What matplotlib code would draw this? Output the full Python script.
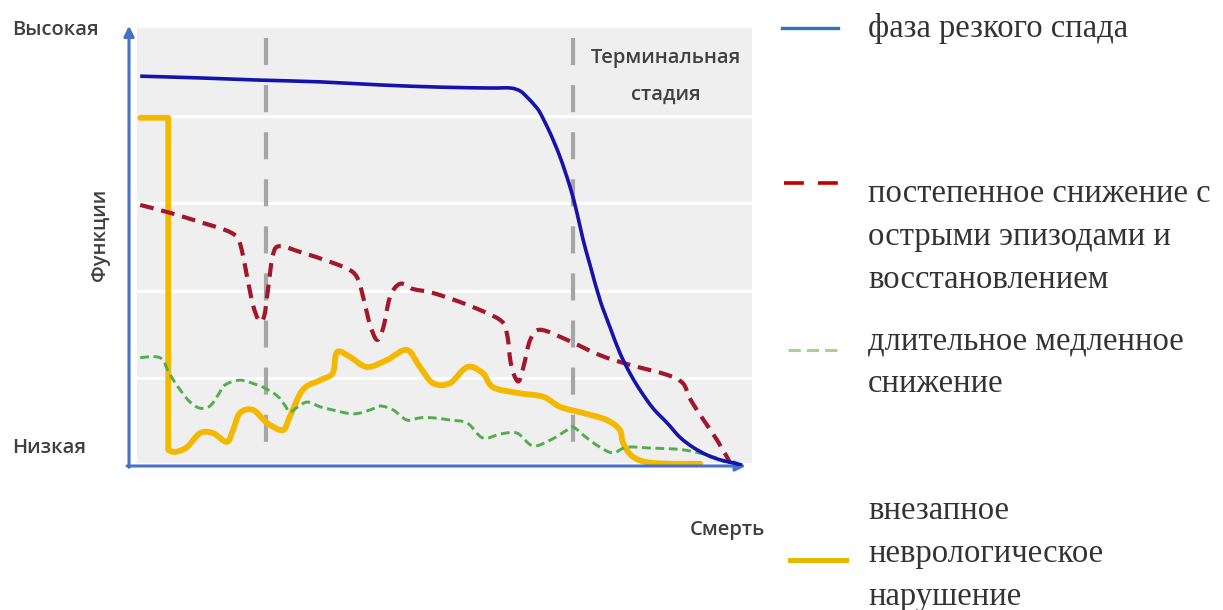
import matplotlib
matplotlib.use("Agg")
import matplotlib.pyplot as plt
import numpy as np
from matplotlib.lines import Line2D
from matplotlib.path import Path
from matplotlib.patches import PathPatch

W, H = 1223, 610

# ---- data (time 0..100, function 0..100) ----
blue_x = [1.8, 11.4, 21.0, 30.7, 40.3, 49.9, 57.9, 61.2, 62.8, 63.9, 65.2, 66.0, 67.6, 69.2, 70.8,
          71.9, 72.9, 74.0, 75.6, 77.2, 78.8, 80.4, 82.0, 84.1, 86.4, 88.4, 90.5, 92.8, 94.9, 97.0, 98.4]
blue_y = [89.0, 88.6, 88.1, 87.7, 87.0, 86.5, 86.3, 86.3, 85.6, 84.2, 82.2, 80.6, 76.0, 70.5, 63.7,
          57.8, 51.6, 45.9, 37.9, 31.7, 25.8, 21.2, 17.4, 13.2, 9.8, 6.6, 4.3, 2.5, 1.4, 0.7, 0.2]

red_x = [1.8, 6.6, 11.4, 15.4, 17.3, 18.1, 18.9, 19.9, 20.9, 21.7, 22.3, 23.1, 24.2, 27.4, 32.3,
         35.5, 36.8, 37.7, 38.7, 39.8, 40.8, 41.9, 43.5, 45.6, 48.8, 54.3, 59.6, 60.7, 61.2, 61.8,
         62.6, 63.4, 64.4, 66.0, 70.3, 75.6, 80.4, 86.4, 88.9, 90.0, 91.7, 94.4, 96.5]
red_y = [59.6, 57.8, 55.7, 53.9, 52.3, 49.3, 43.6, 36.8, 33.1, 34.2, 40.2, 48.2, 50.2, 48.9, 46.6,
         44.7, 42.5, 37.9, 32.2, 28.8, 31.5, 38.6, 41.6, 40.4, 39.5, 36.8, 33.3, 29.9, 24.2, 20.8,
         19.4, 23.1, 28.8, 31.1, 28.8, 25.3, 23.1, 20.8, 18.9, 15.5, 11.6, 5.9, 0.7]

green_x = [1.8, 5.0, 6.6, 8.2, 9.8, 11.4, 13.0, 14.3, 15.4, 17.8, 20.2, 21.8, 23.8, 25.0, 25.8,
           26.8, 28.6, 30.7, 32.7, 36.0, 38.7, 40.3, 42.4, 44.6, 46.7, 48.8, 51.5, 54.3, 56.8,
           59.6, 62.3, 64.8, 67.6, 70.3, 71.3, 73.5, 75.6, 77.7, 79.9, 83.6, 88.9, 93.3, 95.7]
green_y = [24.7, 24.7, 20.8, 17.4, 14.6, 13.2, 13.7, 16.2, 18.5, 19.6, 18.7, 17.8, 16.0, 13.9, 12.3,
           13.2, 14.6, 13.5, 12.8, 11.9, 12.8, 13.7, 12.8, 10.5, 11.0, 11.0, 10.5, 9.8, 6.4,
           7.3, 7.5, 4.6, 5.9, 8.2, 8.9, 6.4, 4.3, 3.0, 4.3, 4.1, 3.7, 2.3, 0.9]

yellow_x = [1.8, 6.3, 6.3, 7.4, 9.3, 11.4, 13.5, 15.7, 16.7, 17.8, 19.9, 22.2, 24.7, 25.8, 27.9,
            30.7, 32.7, 33.4, 35.5, 38.2, 41.4, 44.6, 46.7, 48.8, 51.5, 54.3, 56.8, 58.4, 62.3,
            66.5, 69.2, 72.9, 76.7, 78.8, 79.3, 80.9, 84.1, 91.7]
yellow_y = [79.5, 79.5, 3.7, 3.2, 4.3, 7.5, 7.5, 5.5, 8.2, 12.1, 12.8, 9.8, 8.2, 11.2, 17.4,
            19.6, 21.2, 26.0, 24.9, 22.6, 24.2, 26.5, 22.6, 18.9, 18.9, 22.6, 21.2, 18.0, 16.7,
            15.8, 13.5, 12.1, 10.5, 8.2, 5.3, 2.1, 0.7, 0.5]
yellow_corners = [1, 2]

phase_lines_x = [22.0, 71.3]
grid_y = [20, 40, 60, 80]

legend_lines = [["фаза резкого спада"],
                ["постепенное снижение с", "острыми эпизодами и", "восстановлением"],
                ["длительное медленное", "снижение"],
                ["внезапное", "неврологическое", "нарушение"]]


def smooth_path(xs, ys, corners=(), k=6.0):
    """Catmull-Rom curve through the given points, as cubic Bezier path."""
    P = np.column_stack([xs, ys]).astype(float)
    n = len(P)
    T = np.zeros_like(P)
    for i in range(n):
        if i in corners or i == 0 or i == n - 1:
            continue
        T[i] = (P[i + 1] - P[i - 1]) / k
    verts = [P[0]]
    codes = [Path.MOVETO]
    for i in range(n - 1):
        verts += [P[i] + T[i], P[i + 1] - T[i + 1], P[i + 1]]
        codes += [Path.CURVE4] * 3
    return Path(verts, codes)


fig = plt.figure(figsize=(W / 100, H / 100), dpi=100)
fig.patch.set_facecolor("white")

L, R, T, B = 129, 752, 28, 466
ax = fig.add_axes([L / W, 1 - B / H, (R - L) / W, (B - T) / H])
ax.set_xlim(0, 100)
ax.set_ylim(0, 100)
ax.axis("off")

# background
ax.axvspan(1.3, 100, ymin=0.007, ymax=1.0, color="#efefef", zorder=0, lw=0)
for gy in grid_y:
    ax.axhline(gy, xmin=0.013, xmax=1.0, color="white", lw=2.2, zorder=1)

for px in phase_lines_x:
    ax.plot([px, px], [97.7, 2.5], color="#a6a6a6", lw=3.0, dashes=(6.5, 4.8), zorder=2)

ax.add_patch(PathPatch(smooth_path(yellow_x, yellow_y, corners=yellow_corners), fill=False,
                       edgecolor="#f5b800", lw=4.2, joinstyle="round", capstyle="round", zorder=3))
ax.add_patch(PathPatch(smooth_path(green_x, green_y), fill=False, edgecolor="#52ad4c",
                       lw=2.1, linestyle=(0, (3, 1.6)), zorder=4))
ax.add_patch(PathPatch(smooth_path(red_x, red_y), fill=False, edgecolor="#a3172a",
                       lw=3.0, linestyle=(0, (3.3, 1.9)), zorder=5))
ax.add_patch(PathPatch(smooth_path(blue_x, blue_y), fill=False, edgecolor="#1414ad",
                       lw=2.6, zorder=6))

# axes arrows
arr = dict(arrowstyle="-|>,head_length=0.6,head_width=0.3", color="#4472c4", lw=2.2,
           shrinkA=0, shrinkB=0)
ax.annotate("", xy=(0, 100.5), xytext=(0, -0.3), arrowprops=arr, annotation_clip=False)
ax.annotate("", xy=(99.0, 0), xytext=(-0.3, 0), arrowprops=arr, annotation_clip=False)

lab = dict(family="Open Sans", weight="semibold", color="#404040", fontsize=14.5)
ax.text(86.2, 93.2, "Терминальная", ha="center", va="center", zorder=7, **lab)
ax.text(86.2, 84.7, "стадия", ha="center", va="center", zorder=7, **lab)

fig.text(12 / W, 1 - 30 / H, "Высокая", ha="left", va="center", **lab)
fig.text(12 / W, 1 - 448 / H, "Низкая", ha="left", va="center", **lab)
fig.text(100 / W, 1 - 235 / H, "Функции", ha="center", va="center", rotation=90, **lab)
fig.text(690 / W, 1 - 530 / H, "Смерть", ha="left", va="center", **lab)

# manual legend
lax = fig.add_axes([0, 0, 1, 1])
lax.set_xlim(0, W)
lax.set_ylim(H, 0)
lax.axis("off")
lax.patch.set_alpha(0)
handles = [
    dict(y=28, color="#2e75b6", lw=2.4, dashes=None, x0=782, x1=838),
    dict(y=183, color="#c00000", lw=2.6, dashes=(5.5, 3.9), x0=784, x1=838),
    dict(y=350, color="#a9d18e", lw=2.2, dashes=(4, 2), x0=788, x1=838),
    dict(y=560, color="#e6b800", lw=3.6, dashes=None, x0=790, x1=846),
]
text_y0 = [29, 194, 341, 511]
line_step = 43
for h, ty, lines in zip(handles, text_y0, legend_lines):
    kw = dict(color=h["color"], lw=h["lw"])
    if h["dashes"]:
        kw["dashes"] = h["dashes"]
    lax.add_line(Line2D([h["x0"], h["x1"]], [h["y"], h["y"]], **kw))
    for j, txt in enumerate(lines):
        lax.text(868, ty + j * line_step, txt, ha="left", va="center",
                 family="Liberation Serif", fontsize=23.5, color="#333333")

fig.savefig("out.png", dpi=100)
